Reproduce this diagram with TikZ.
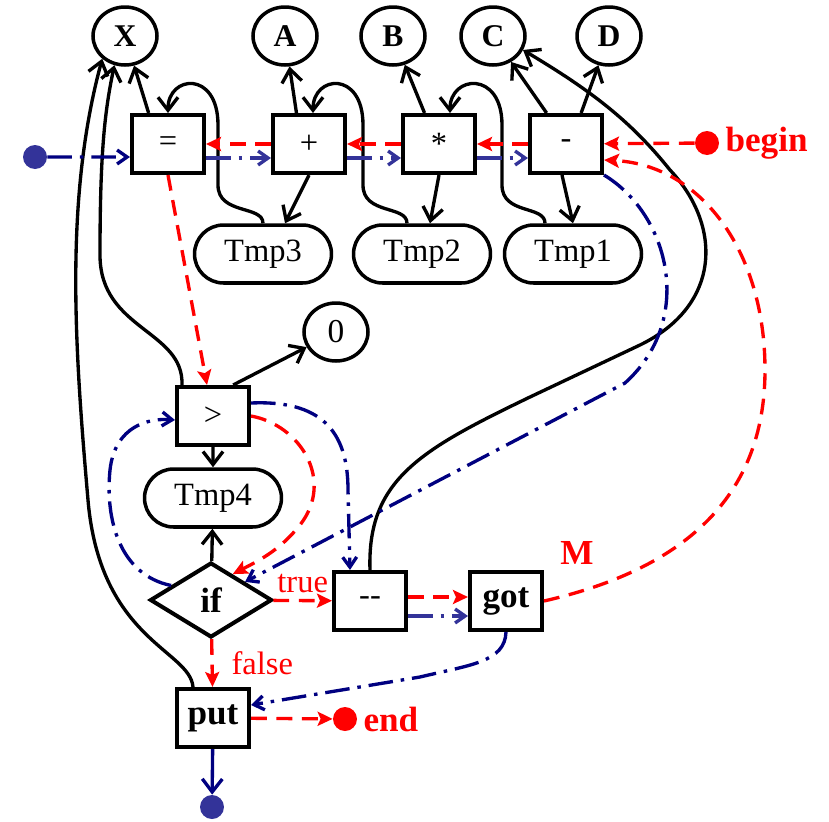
\documentclass[tikz,border=0pt]{standalone}
\usepackage{fontspec}
\setmainfont{Liberation Serif}
\usetikzlibrary{arrows.meta, shapes.geometric, shapes.misc}
\definecolor{flowred}{RGB}{255,0,0}
\definecolor{flownavy}{RGB}{0,0,128}
\definecolor{dotblue}{RGB}{51,51,153}

\begin{document}
\begin{tikzpicture}[x=0.02cm, y=-0.02cm,
	every node/.style={font=\fontsize{18.5}{22}\selectfont},
	var style/.style={ellipse, draw, line width=2pt, minimum width=1.28cm, minimum height=1.16cm, inner sep=0pt, font=\fontsize{18}{22}\selectfont\bfseries},
	op style/.style={rectangle, draw, line width=2.3pt, minimum width=1.44cm, minimum height=1.16cm, inner sep=0pt},
	tmp style/.style={rounded rectangle, draw, line width=2pt, minimum width=2.74cm, minimum height=1.16cm, inner sep=0pt},
	if style/.style={diamond, draw, line width=2.3pt, minimum width=2.44cm, minimum height=1.5cm, inner sep=0pt},
	dot style/.style={circle, fill, minimum size=0.48cm, inner sep=0pt},
	bold/.style={font=\fontsize{20}{24}\selectfont\bfseries},
	tag/.style={text=flowred, bold},
	data/.style={line width=1.9pt, -{Straight Barb[length=2.6mm,width=4mm]}},
	ctrl/.style={flowred, line width=1.9pt, dash pattern=on 9pt off 5.5pt, -{Stealth[length=3mm,width=2.8mm,inset=0.6mm]}},
	seq/.style={flownavy, line width=1.9pt, dash pattern=on 14pt off 4.5pt on 2pt off 4.5pt, -{Straight Barb[length=2mm,width=2.8mm]}}]
	\useasboundingbox (0,0) rectangle (829,822);
	% variables
	\node[var style] (X) at (125,36) {X};
	\node[var style] (A) at (285,36) {A};
	\node[var style] (B) at (393,36) {B};
	\node[var style] (C) at (493,36) {C};
	\node[var style] (D) at (609,36) {D};
	\node[var style, font=\fontsize{19}{22}\selectfont] (Zero) at (336,332) {0};
	% operations
	\node[op style] (Eq) at (168,144) {=};
	\node[op style] (Plus) at (309,144) {+};
	\node[op style] (Mul) at (439,144) {*};
	\node[op style] (Minus) at (566,144) {-};
	\node[op style] (Gt) at (213,416) {>};
	\node[if style, bold] (If) at (211,600) {if};
	\node[op style] (Dec) at (370,601) {-{}-};
	\node[op style, bold] (Got) at (506,601) {got};
	\node[op style, bold] (Put) at (213,718) {put};
	% temporaries
	\node[tmp style] (T3) at (263,254) {Tmp3};
	\node[tmp style] (T2) at (422,254) {Tmp2};
	\node[tmp style] (T1) at (573,254) {Tmp1};
	\node[tmp style] (T4) at (213,498) {Tmp4};
	% entry and exit points
	\node[dot style, dotblue] (In) at (35,157) {};
	\node[dot style, flowred, label={[tag]right:begin}] (Begin) at (707,143) {};
	\node[dot style, flowred, label={[tag]right:end}] (End) at (345,719) {};
	\node[dot style, dotblue] (Out) at (212,807) {};
	\node[tag] (M) at (577,553) {M};

	% data flow
	\draw[data] (Eq.122) -- (X);
	\draw[data] (Plus.112) -- (A);
	\draw[data] (Mul.115) -- (B);
	\draw[data] (Minus.122) -- (C);
	\draw[data] (Minus.64) -- (D);
	\draw[data] (Plus.south) -- ([xshift=0.44cm]T3.north);
	\draw[data] (Mul.south) -- ([xshift=0.16cm]T2.north);
	\draw[data] ([xshift=-0.08cm]Minus.south) -- (T1.north);
	\draw[data] (T3.north) .. controls (263,205) and (218,215) .. (218,185) -- (218,125) .. controls (218,70) and (168,75) .. (Eq.north);
	\draw[data] ([xshift=-0.3cm]T2.north) .. controls (407,205) and (363,215) .. (363,185) -- (363,125) .. controls (363,70) and (313,75) .. ([xshift=0.08cm]Plus.north);
	\draw[data] ([xshift=-0.56cm]T1.north) .. controls (545,205) and (502,215) .. (502,185) -- (502,125) .. controls (502,70) and (450,75) .. ([xshift=0.22cm]Mul.north);
	\draw[data] (Gt.57) -- (Zero);
	\draw[data] (Gt) -- (T4);
	\draw[data] (If) -- (T4);
	\draw[data] ([xshift=0.14cm]Gt.north west) .. controls (184,330) and (100,330) .. (100,255) .. controls (100,150) and (105,110) .. (X.250);
	\draw[data] ([xshift=0.36cm]Put.north west) .. controls (190,650) and (100,640) .. (88,500) .. controls (75,350) and (64,200) .. (X.225);
	\draw[data] (Dec.north) .. controls (367,480) and (420,450) .. (530,397) -- (640,345) .. controls (722,305) and (722,225) .. (670,170) .. controls (630,120) and (590,90) .. (C.-25);

	% control flow
	\draw[ctrl] (Begin) -- (Minus);
	\draw[ctrl] (Minus) -- (Mul);
	\draw[ctrl] (Mul) -- (Plus);
	\draw[ctrl] (Plus) -- (Eq);
	\draw[ctrl] (Eq.south) -- ([xshift=-0.12cm]Gt.north);
	\draw[ctrl] (Gt.east) .. controls (300,425) and (335,480) .. (300,525) .. controls (280,550) and (260,560) .. (If.50);
	\draw[ctrl] (If) -- node[above] {true} (Dec);
	\draw[ctrl] (If) -- node[right, xshift=0.24cm] {false} (Put);
	\draw[ctrl] ([yshift=0.08cm]Dec.east) -- ([yshift=0.08cm]Got.west);
	\draw[ctrl] (Got.east) .. controls (680,570) and (765,500) .. (765,370) .. controls (765,250) and (700,165) .. ([yshift=-0.32cm]Minus.east);
	\draw[ctrl] (Put) -- (End);

	% sequence
	\draw[seq] (In) -- ([yshift=-0.26cm]Eq.west);
	\draw[seq, dotblue] ([yshift=-0.28cm]Eq.east) -- ([yshift=-0.28cm]Plus.west);
	\draw[seq, dotblue] ([yshift=-0.28cm]Plus.east) -- ([yshift=-0.28cm]Mul.west);
	\draw[seq, dotblue] ([yshift=-0.28cm]Mul.east) -- ([yshift=-0.28cm]Minus.west);
	\draw[seq] (Minus.south east) .. controls (670,215) and (695,320) .. (625,383) -- (If.28);
	\draw[seq] ([yshift=0.26cm]Gt.east) .. controls (320,400) and (348,430) .. (348,490) -- ([xshift=-0.4cm]Dec.north);
	\draw[seq] (If.160) .. controls (120,575) and (105,520) .. (110,470) .. controls (115,425) and (150,418) .. ([yshift=-0.08cm]Gt.west);
	\draw[seq, dotblue] ([yshift=-0.3cm]Dec.east) -- ([yshift=-0.3cm]Got.west);
	\draw[seq] (Got.south) .. controls (505,662) and (470,665) .. (420,677) -- ([yshift=0.26cm]Put.east);
	\draw[data, flownavy] (Put) -- (Out);
\end{tikzpicture}
\end{document}
